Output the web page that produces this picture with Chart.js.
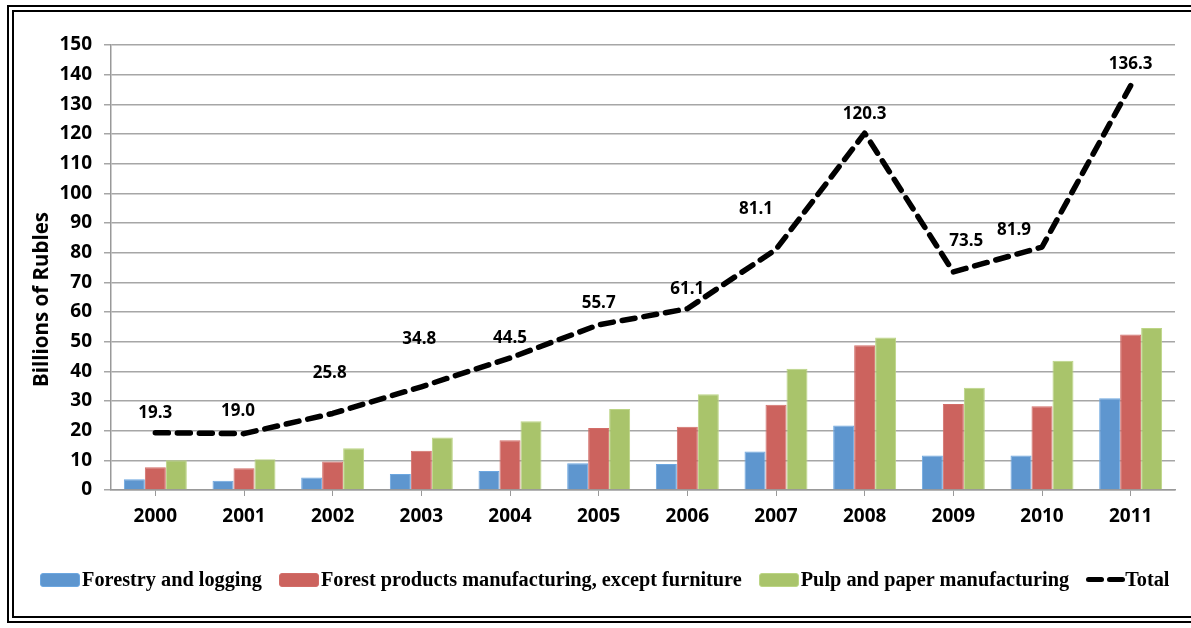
<!DOCTYPE html>
<html>
<head>
<meta charset="utf-8">
<script src="https://cdn.jsdelivr.net/npm/chart.js@4.4.1/dist/chart.umd.min.js"></script>
<style>
    html, body { margin: 0; padding: 0; background: #fff; }
    #wrap { position: relative; width: 1191px; height: 628px; overflow: hidden; }
    #frame { position: absolute; left: 7px; top: 5px; width: 1200px; height: 604px; border: 7px double #000; }
    #chart { position: absolute; left: 0; top: 0; }
    #legend { position: absolute; left: 40px; top: 568px; display: flex; align-items: center;
        font: bold 20.3px "Liberation Serif", serif; color: #000; white-space: nowrap; }
    .item { display: flex; align-items: center; margin-right: 17px; }
    .swatch { width: 38px; height: 12px; border-radius: 3px; margin-right: 2px; }
    .dash { width: 18px; height: 5px; border-radius: 3px; background: #000; margin-right: 3px; }
</style>
</head>
<body>
<div id="wrap">
    <div id="frame"></div>
    <canvas id="chart" width="1191" height="628"></canvas>
    <div id="legend"></div>
</div>
<script>
const years = ['2000', '2001', '2002', '2003', '2004', '2005', '2006', '2007', '2008', '2009', '2010', '2011'];
const forestry = [3.6, 3.1, 4.2, 5.4, 6.4, 9.0, 8.8, 13.0, 21.7, 11.6, 11.6, 30.9];
const forestProducts = [7.7, 7.3, 9.6, 13.2, 16.8, 20.9, 21.3, 28.7, 48.8, 29.0, 28.2, 52.4];
const pulpPaper = [10.0, 10.4, 14.1, 17.7, 23.2, 27.3, 32.3, 40.9, 51.4, 34.5, 43.6, 54.6];
const total = [19.3, 19.0, 25.8, 34.8, 44.5, 55.7, 61.1, 81.1, 120.3, 73.5, 81.9, 136.3];
const yTitle = 'Billions of Rubles';

// where each total label sits relative to its point (px)
const labelNudge = [[0, -20], [-6, -22], [-3, -40], [-2, -48], [0, -20], [0, -22], [0, -20], [-20, -40], [0, -19], [13, -31], [-28, -17], [0, -21]];

const tickFont = { family: 'Open Sans', weight: 'bold', size: 19 };

const totalLabels = {
    id: 'totalLabels',
    afterDatasetsDraw(chart) {
        const ctx = chart.ctx;
        const meta = chart.getDatasetMeta(3);
        ctx.save();
        ctx.font = 'bold 17px "Open Sans"';
        ctx.fillStyle = '#000';
        ctx.textAlign = 'center';
        ctx.textBaseline = 'middle';
        meta.data.forEach((pt, i) => {
            ctx.fillText(total[i].toFixed(1), pt.x + labelNudge[i][0], pt.y + labelNudge[i][1]);
        });
        ctx.restore();
    }
};

// Excel puts the axis title a bit below the middle of the axis
const axisTitle = {
    id: 'axisTitle',
    afterDraw(chart) {
        const ctx = chart.ctx;
        const area = chart.chartArea;
        ctx.save();
        ctx.translate(42, (area.top + area.bottom) / 2 + 32);
        ctx.rotate(-Math.PI / 2);
        ctx.font = 'bold 20.5px "Open Sans"';
        ctx.fillStyle = '#000';
        ctx.textAlign = 'center';
        ctx.textBaseline = 'middle';
        ctx.fillText(yTitle, 0, 0);
        ctx.restore();
    }
};

const chart = new Chart(document.getElementById('chart').getContext('2d'), {
    type: 'bar',
    data: {
        labels: years,
        datasets: [{
            label: 'Forestry and logging',
            data: forestry,
            backgroundColor: '#5e96cf',
            borderColor: '#6da7e0',
            borderWidth: 1,
            order: 1
        }, {
            label: 'Forest products manufacturing, except furniture',
            data: forestProducts,
            backgroundColor: '#cc635e',
            borderColor: '#d26d68',
            borderWidth: 1,
            order: 1
        }, {
            label: 'Pulp and paper manufacturing',
            data: pulpPaper,
            backgroundColor: '#a9c46b',
            borderColor: '#bcd585',
            borderWidth: 1,
            order: 1
        }, {
            type: 'line',
            label: 'Total',
            data: total,
            borderColor: '#000',
            borderWidth: 5.5,
            borderDash: [13, 9],
            borderCapStyle: 'round',
            borderJoinStyle: 'round',
            pointRadius: 0,
            tension: 0,
            fill: false,
            order: 0
        }]
    },
    options: {
        responsive: false,
        animation: false,
        datasets: {
            bar: { categoryPercentage: 0.71, barPercentage: 1.0 }
        },
        layout: { padding: { left: 0, right: 16, top: 45, bottom: 0 } },
        plugins: {
            legend: { display: false },
            tooltip: { enabled: false }
        },
        scales: {
            x: {
                afterFit: (scale) => { scale.height = 138; },
                grid: { offset: false, drawOnChartArea: false, drawTicks: true, tickLength: 6, color: '#999' },
                border: { color: '#999', width: 1.5 },
                ticks: { font: tickFont, color: '#000', padding: 9 }
            },
            y: {
                min: 0,
                max: 150,
                afterFit: (scale) => { scale.width = 111; },
                grid: { color: '#a6a6a6', lineWidth: 1.5, tickLength: 7 },
                border: { color: '#999', width: 1.5 },
                ticks: { stepSize: 10, font: tickFont, color: '#000', padding: 12 }
            }
        }
    },
    plugins: [totalLabels, axisTitle]
});

// legend built from the chart's datasets
const legendBox = document.getElementById('legend');
chart.data.datasets.forEach((ds) => {
    const item = document.createElement('div');
    item.className = 'item';
    if (ds.type === 'line') {
        item.innerHTML = '<span class="dash"></span><span class="dash" style="margin-right:0"></span>';
    } else {
        item.innerHTML = `<span class="swatch" style="background:${ds.backgroundColor};border:1px solid ${ds.borderColor}"></span>`;
    }
    const txt = document.createElement('span');
    txt.textContent = ds.label;
    item.appendChild(txt);
    legendBox.appendChild(item);
});
</script>
</body>
</html>
